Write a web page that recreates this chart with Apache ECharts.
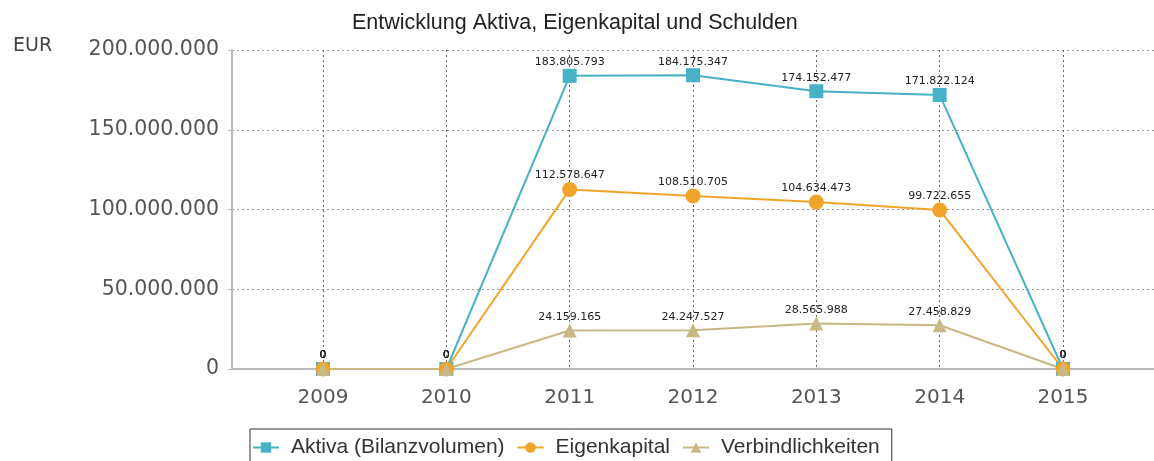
<!DOCTYPE html>
<html>
<head>
<meta charset="utf-8">
<script src="https://cdn.jsdelivr.net/npm/echarts@6/dist/echarts.min.js"></script>
<style>
    html, body { margin: 0; padding: 0; background: #fff; }
    #chart { width: 1154px; height: 461px; }
</style>
</head>
<body>
<div id="chart"></div>
<script>
"use strict";

var years = [2009, 2010, 2011, 2012, 2013, 2014, 2015];
var aktiva = [0, 0, 183805793, 184175347, 174152477, 171822124, 0];
var eigenkapital = [0, 0, 112578647, 108510705, 104634473, 99722655, 0];
var verbindlichkeiten = [0, 0, 24159165, 24247527, 28565988, 27458829, 0];

function fmt(v) {
    return String(Math.round(v)).replace(/\B(?=(\d{3})+(?!\d))/g, '.');
}

function pairs(vals) {
    return years.map(function (y, i) { return [y, vals[i]]; });
}

var dom = document.getElementById("chart");
var myChart = echarts.init(dom);

var labelStyle = {
    show: true,
    position: 'top',
    distance: 1,
    fontSize: 11,
    color: '#222',
    fontFamily: 'DejaVu Sans',
    formatter: function (p) { return fmt(p.value[1]); }
};

function lineSeries(name, vals, color, symbol, size) {
    return {
        name: name,
        type: 'line',
        data: pairs(vals),
        symbol: symbol,
        symbolSize: size,
        showAllSymbol: true,
        lineStyle: { color: color, width: 2 },
        itemStyle: { color: color },
        label: labelStyle,
        emphasis: { disabled: true }
    };
}

var option = {
    animation: false,
    title: {
        text: 'Entwicklung Aktiva, Eigenkapital und Schulden',
        left: 347,
        top: 7,
        textStyle: {
            fontFamily: 'Liberation Sans',
            fontSize: 21.5,
            fontWeight: 'normal',
            color: '#222'
        }
    },
    graphic: [{
        type: 'text',
        left: 13,
        top: 37,
        style: { text: 'EUR', font: '19px "DejaVu Sans"', fill: '#444' }
    }],
    legend: {
        left: 250,
        top: 429,
        padding: [8, 12, 12, 2],
        itemGap: 12,
        itemWidth: 26,
        itemHeight: 13,
        borderColor: '#333',
        borderWidth: 1,
        textStyle: {
            fontSize: 21,
            color: '#333',
            fontFamily: 'Liberation Sans',
            padding: [0, 0, 0, 7]
        },
        data: ['Aktiva (Bilanzvolumen)', 'Eigenkapital', 'Verbindlichkeiten']
    },
    grid: {
        left: 232,
        right: 0,
        top: 50,
        bottom: 92
    },
    xAxis: {
        type: 'value',
        min: 2008.262,
        max: 2015.738,
        axisLine: { show: false },
        axisTick: { show: true, length: 0, customValues: years },
        axisLabel: {
            customValues: years,
            fontSize: 20,
            color: '#555',
            fontFamily: 'DejaVu Sans',
            margin: 19,
            formatter: function (v) { return String(v); }
        },
        splitLine: {
            show: true,
            lineStyle: { color: '#666', type: [2, 3], width: 1 }
        }
    },
    yAxis: {
        type: 'value',
        min: 0,
        max: 200000000,
        interval: 50000000,
        axisLine: { show: true, lineStyle: { color: '#bbb', width: 2 } },
        axisTick: { show: true, length: 4, lineStyle: { color: '#bbb' } },
        axisLabel: {
            fontSize: 20.5,
            color: '#555',
            fontFamily: 'DejaVu Sans',
            margin: 13,
            formatter: function (v) { return fmt(v); }
        },
        splitLine: {
            show: true,
            lineStyle: { color: '#999', type: [2, 3], width: 1 }
        }
    },
    series: [
        lineSeries('Aktiva (Bilanzvolumen)', aktiva, '#47b1c6', 'rect', 14),
        lineSeries('Eigenkapital', eigenkapital, '#f0a42a', 'circle', 15),
        lineSeries('Verbindlichkeiten', verbindlichkeiten, '#c8b886', 'triangle', 14),
        {
            type: 'line',
            data: [[2008.262, 0], [2015.738, 0]],
            symbol: 'none',
            silent: true,
            z: 1,
            lineStyle: { color: '#bbb', width: 2 }
        }
    ]
};

if (option && typeof option === 'object') {
    myChart.setOption(option);
}
</script>
</body>
</html>
